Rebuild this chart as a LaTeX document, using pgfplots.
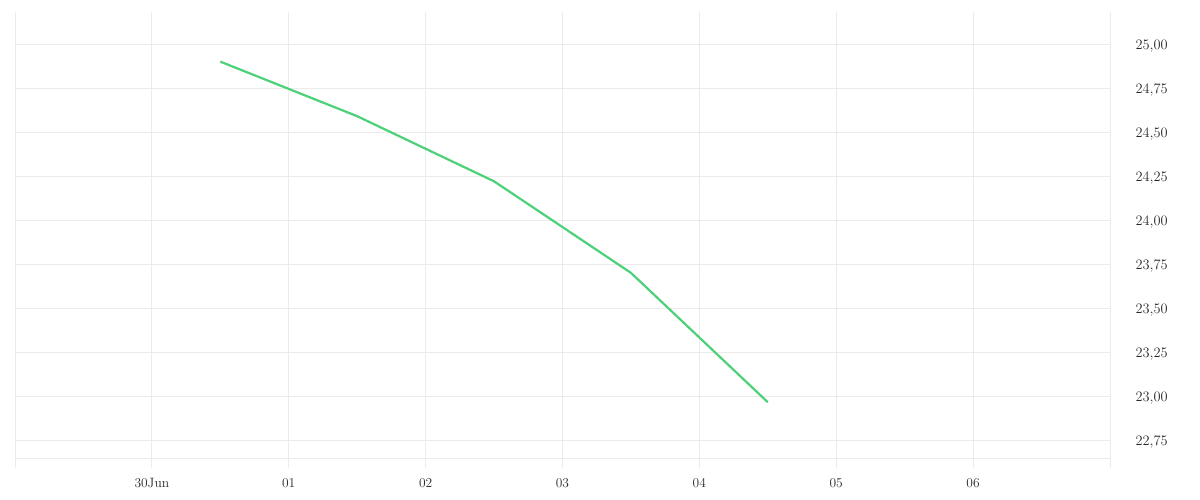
\documentclass[border=0pt]{standalone}
\usepackage{pgfplots}
\pgfplotsset{compat=1.18}
\definecolor{gridc}{RGB}{235,235,235}
\definecolor{linec}{RGB}{76,209,120}
\definecolor{textc}{RGB}{40,40,40}
\begin{document}
\begin{tikzpicture}
\begin{axis}[
  scale only axis,
  width=1095pt, height=446pt,
  xmin=-1, xmax=7,
  ymin=22.648, ymax=25.182,
  axis line style={draw=none},
  xtick={-1,0,1,2,3,4,5,6,7},
  xticklabels={,30Jun,01,02,03,04,05,06,},
  ytick={22.75,23,23.25,23.5,23.75,24,24.25,24.5,24.75,25},
  yticklabel pos=right,
  xtick pos=lower,
  xmajorgrids, ymajorgrids,
  grid style={draw=gridc, line width=0.9pt},
  x tick style={draw=gridc, line width=0.9pt},
  y tick style={draw=none},
  tick align=outside,
  major tick length=10pt,
  ticklabel style={font=\fontsize{13.5}{15}\selectfont, text=textc},
  y tick label style={anchor=west, xshift=12pt, yshift=-2.5pt},
  x tick label style={yshift=-7pt},
  yticklabel={\pgfmathprintnumber[fixed, fixed zerofill, precision=2, use comma]{\tick}},
  clip=false,
]
\draw[gridc, line width=0.9pt] (axis cs:-1,22.648) -- (axis cs:7,22.648);
\addplot[linec, line width=2.2pt, mark=none] coordinates {
  (0.5,24.90) (1.5,24.59) (2.5,24.22) (3.5,23.70) (4.5,22.965)
};
\end{axis}
\pgfresetboundingbox
\path (current axis.south west) ++(-15pt,-42pt) rectangle ++(1200pt,500pt);
\end{tikzpicture}
\end{document}
